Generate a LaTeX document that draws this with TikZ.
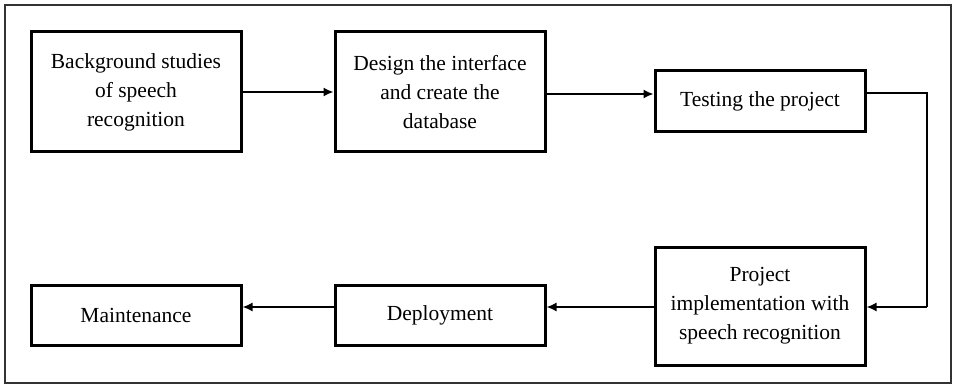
\documentclass[tikz,border=0pt]{standalone}
\usepackage{fontspec}
\setmainfont{Liberation Serif}
\usetikzlibrary{arrows.meta}
\begin{document}
\begin{tikzpicture}[x=1pt,y=-1pt,
  stage/.style={draw=black,line width=3pt,minimum width=210pt,align=center,
    font=\fontsize{21.5}{29}\selectfont,inner sep=0pt},
  conn/.style={line width=1.6pt,-{Latex[length=10pt,width=9pt]}}]
\useasboundingbox (0,0) rectangle (953,385);
\draw[line width=1.2pt,black!80] (5,5) rectangle (951,383);
\node[stage,minimum height=120pt] (b1) at (136,92) {Background studies\\of speech\\recognition};
\node[stage,minimum height=120pt] (b2) at (440,92) {Design the interface\\and create the\\database};
\node[stage,minimum height=61pt] (b3) at (760,101.5) {Testing the project};
\node[stage,minimum height=118pt] (b4) at (760,306) {Project\\implementation with\\speech recognition};
\node[stage,minimum height=60pt] (b5) at (440,315) {Deployment};
\node[stage,minimum height=60pt] (b6) at (136,315) {Maintenance};
\coordinate (t1) at (927,93);
\coordinate (t2) at (927,307);
\coordinate (m) at (600,307);
\draw[conn] (b1.east) -- (b2.west);
\draw[conn] (b2.east |- 0,94) -- (b3.west |- 0,94);
\draw[line width=1.6pt] (b3.east |- t1) -- (t1) -- (t2);
\draw[conn] (t2) -- (t2 -| b4.east);
\draw[conn] (b4.west |- m) -- (b5.east |- m);
\draw[conn] (b5.west |- m) -- (b6.east |- m);
\end{tikzpicture}
\end{document}
